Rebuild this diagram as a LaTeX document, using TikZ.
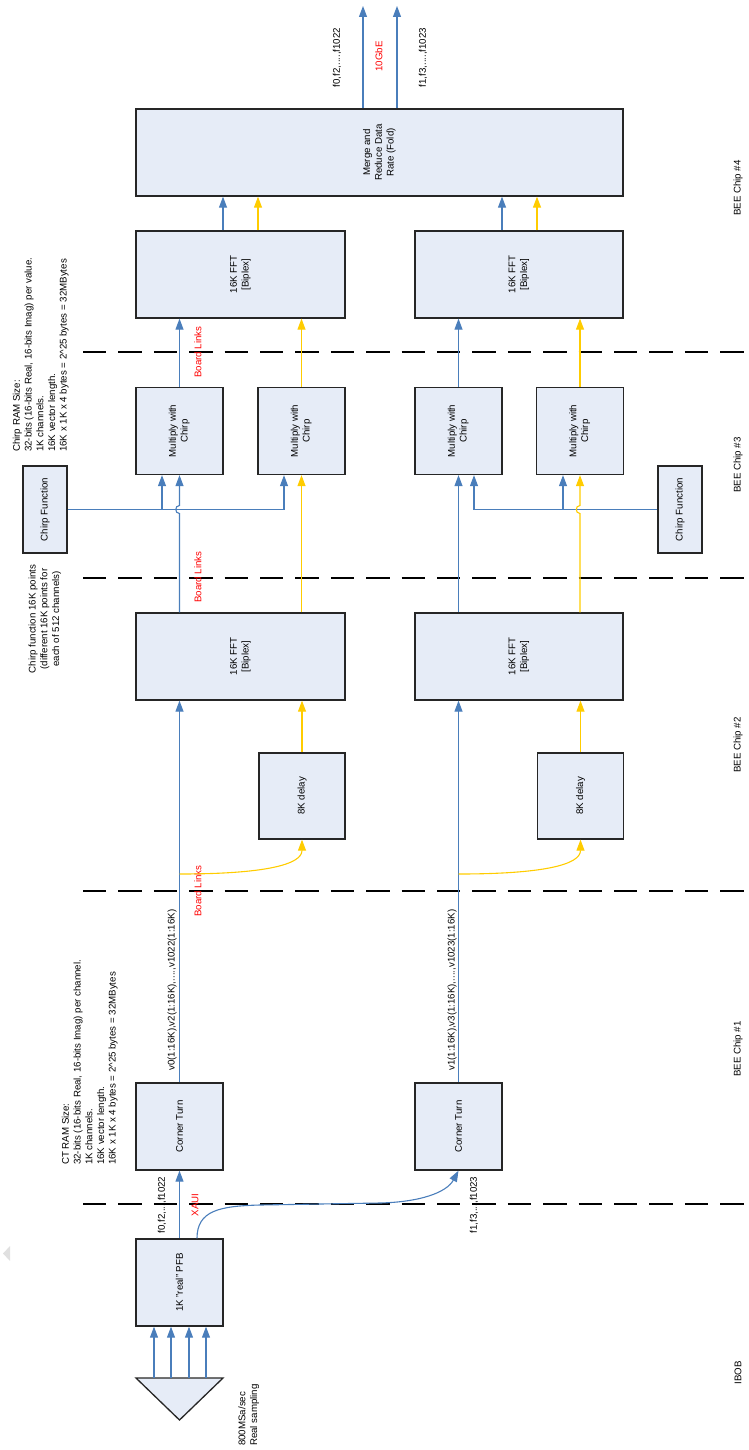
\documentclass[tikz,border=0pt]{standalone}
\usepackage{fontspec}
\setmainfont{Liberation Sans}
\usepackage{graphicx}
\usetikzlibrary{arrows.meta}
\definecolor{boxfill}{HTML}{E6ECF7}
\definecolor{linkblue}{HTML}{4A7EBB}
\definecolor{linkyellow}{HTML}{FFCC00}
\newcommand{\vtxt}[1]{\rotatebox{90}{#1}}
\newcommand{\vlines}[2]{\rotatebox{90}{\begin{tabular}{@{}#1@{}}#2\end{tabular}}}

\begin{document}
\begin{tikzpicture}[x=1pt,y=-1pt,
	font=\fontsize{9.7}{11.7}\selectfont,
	blk/.style={draw=black!85, line width=1.3pt, fill=boxfill, inner sep=0pt, minimum width=87pt, minimum height=87pt},
	barrow/.style={draw=linkblue, line width=1.1pt, -{Triangle[length=11pt,width=8pt]}},
	yarrow/.style={draw=linkyellow, line width=1.1pt, -{Triangle[length=11pt,width=8pt]}},
	chipsep/.style={draw=black, line width=2pt, dash pattern=on 23.4pt off 12pt},
	lbl/.style={inner sep=0pt},
	redlbl/.style={lbl, text=red}]
		\useasboundingbox (0,0) rectangle (749,1450);
		\foreach \yy in {352,578,891,1204}
			\draw[chipsep] (83,\yy) -- (744,\yy);
		\fill[black!12] (10,1246) -- (10,1261) -- (3,1253.5) -- cycle;
		\node[blk] (pfb) at (179.5,1282.5) {\vtxt{1K "real" PFB}};
		\node[blk] (ct1) at (179.5,1126.5) {\vtxt{Corner Turn}};
		\node[blk] (ct2) at (458.5,1126.5) {\vtxt{Corner Turn}};
		\node[blk, minimum width=86pt, minimum height=86pt] (dly1) at (302,796) {\vtxt{8K delay}};
		\node[blk, minimum width=86pt, minimum height=86pt] (dly2) at (580.5,796) {\vtxt{8K delay}};
		\node[blk, minimum width=209pt] (fftA) at (240.5,656.5) {\vlines{c}{16K FFT\\{[Biplex]}}};
		\node[blk, minimum width=208pt] (fftB) at (519,656.5) {\vlines{c}{16K FFT\\{[Biplex]}}};
		\node[blk] (mulA) at (179.5,431) {\vlines{c}{Multiply with\\Chirp}};
		\node[blk] (mulB) at (301.5,431) {\vlines{c}{Multiply with\\Chirp}};
		\node[blk] (mulC) at (458.5,431) {\vlines{c}{Multiply with\\Chirp}};
		\node[blk] (mulD) at (580,431) {\vlines{c}{Multiply with\\Chirp}};
		\node[blk, minimum width=44pt] (chirpL) at (45,509.5) {\vtxt{Chirp Function}};
		\node[blk, minimum width=44pt] (chirpR) at (680,509.5) {\vtxt{Chirp Function}};
		\node[blk, minimum width=209pt] (fftC) at (240.5,274.5) {\vlines{c}{16K FFT\\{[Biplex]}}};
		\node[blk, minimum width=208pt] (fftD) at (519,274.5) {\vlines{c}{16K FFT\\{[Biplex]}}};
		\node[blk, minimum width=487pt] (merge) at (379.5,152.5) {\vlines{c}{Merge and\\Reduce Data\\Rate (Fold)}};
		\draw[draw=black!85, line width=1.3pt, fill=boxfill] (136,1378) -- (223,1378) -- (179.5,1420) -- cycle;
		\coordinate (adc) at (180,1378);
		\coordinate (tapA) at (179.5,874);
		\coordinate (tapB) at (458.5,874);
		\coordinate (outA) at (363,6);
		\coordinate (outB) at (397,6);
		\node[lbl, anchor=south] (adcnote) at (249,1446) {\vlines{l}{800MSa/sec\\Real sampling}};
		\node[lbl, anchor=south] (ctnote) at (90,1165) {\vlines{l}{CT RAM Size:\\32-bits (16-bits Real, 16-bits Imag) per channel.\\1K channels.\\16K vector length.\\16K x 1K x 4 bytes = 2\textasciicircum{}25 bytes = 32MBytes}};
		\node[lbl, anchor=south] (chirpnote) at (41,452) {\vlines{l}{Chirp RAM Size:\\32-bits (16-bits Real, 16-bits Imag) per value.\\1K channels.\\16K vector length.\\16K x 1K x 4 bytes = 2\textasciicircum{}25 bytes = 32MBytes}};
		\node[lbl] (chirpfn) at (45,619) {\vlines{c}{Chirp function 16K points\\(different 16K points for\\each of 512 channels)}};
		\node[lbl] (evenin) at (162,1205) {\vtxt{f0,f2,...,f1022}};
		\node[redlbl] (xaui) at (195,1205) {\vtxt{XAUI}};
		\node[lbl] (oddin) at (474,1205) {\vtxt{f1,f3,...,f1023}};
		\node[lbl, anchor=south] (veven) at (172,1071) {\vtxt{v0(1:16K),v2(1:16K),....,v1022(1:16K)}};
		\node[lbl, anchor=south] (vodd) at (452,1071) {\vtxt{v1(1:16K),v3(1:16K),....,v1023(1:16K)}};
		\foreach \yy/\nm in {891/linkA,577/linkB,352/linkC}
			\node[redlbl] (\nm) at (198,\yy) {\vtxt{Board Links}};
		\node[lbl] (evenout) at (337,57.5) {\vtxt{f0,f2,....,f1022}};
		\node[redlbl] (gbe) at (379,56.5) {\vtxt{10GbE}};
		\node[lbl] (oddout) at (423,57.5) {\vtxt{f1,f3,....,f1023}};
		\foreach \yy/\txt [count=\i] in {1373/IBOB,1049/BEE Chip \#1,745/BEE Chip \#2,465/BEE Chip \#3,188/BEE Chip \#4}
			\node[lbl] (chip\i) at (738,\yy) {\vtxt{\txt}};
		\foreach \dx in {-26,-9,9,26}
			\draw[barrow] ([xshift=\dx pt]adc) -- ([xshift=\dx pt]adc |- pfb.south);
		\draw[barrow] (pfb) -- (ct1);
		\draw[barrow] ([xshift=17.5pt]pfb.north) .. controls +(0,-28) and +(-40,1) .. (260,1205) -- (380,1203) .. controls +(40,-1) and +(-12,22) .. (ct2.south);
		\draw[barrow] (ct1) -- (ct1.north |- fftA.south);
		\draw[barrow] (ct2) -- (ct2.north |- fftB.south);
		\draw[yarrow] (tapA) .. controls +(85,0) and +(0,25) .. (dly1.south);
		\draw[yarrow] (tapB) .. controls +(85,0) and +(0,25) .. (dly2.south);
		\draw[yarrow] (dly1) -- (dly1.north |- fftA.south);
		\draw[yarrow] (dly2) -- (dly2.north |- fftB.south);
		\draw[barrow] (fftA.north -| mulA) -- (179.5,513.5) .. controls +(-5,0) and +(-5,0) .. (179.5,505.5) -- (mulA);
		\draw[barrow] (chirpL) -| ([xshift=-17.5pt]mulB.south);
		\draw[barrow] ([xshift=-17.5pt]mulA.south |- chirpL) -- ([xshift=-17.5pt]mulA.south);
		\draw[yarrow] (fftA.north -| mulB) -- (mulB);
		\draw[barrow] (fftB.north -| mulC) -- (mulC);
		\draw[barrow] (chirpR) -| ([xshift=15.5pt]mulC.south);
		\draw[barrow] ([xshift=-17pt]mulD.south |- chirpR) -- ([xshift=-17pt]mulD.south);
		\draw[yarrow] (fftB.north -| mulD) -- (580,513.5) .. controls +(-5,0) and +(-5,0) .. (580,505.5) -- (mulD);
		\draw[barrow] (mulA) -- (mulA.north |- fftC.south);
		\draw[yarrow] (mulB) -- (mulB.north |- fftC.south);
		\draw[barrow] (mulC) -- (mulC.north |- fftD.south);
		\draw[yarrow] (mulD) -- (mulD.north |- fftD.south);
		\draw[barrow] ([xshift=-17.5pt]fftC.north) -- ([xshift=-17.5pt]fftC.north |- merge.south);
		\draw[yarrow] ([xshift=17.5pt]fftC.north) -- ([xshift=17.5pt]fftC.north |- merge.south);
		\draw[barrow] ([xshift=-17pt]fftD.north) -- ([xshift=-17pt]fftD.north |- merge.south);
		\draw[yarrow] ([xshift=18pt]fftD.north) -- ([xshift=18pt]fftD.north |- merge.south);
		\draw[barrow] (merge.north -| outA) -- (outA);
		\draw[barrow] (merge.north -| outB) -- (outB);
	\end{tikzpicture}
\end{document}
